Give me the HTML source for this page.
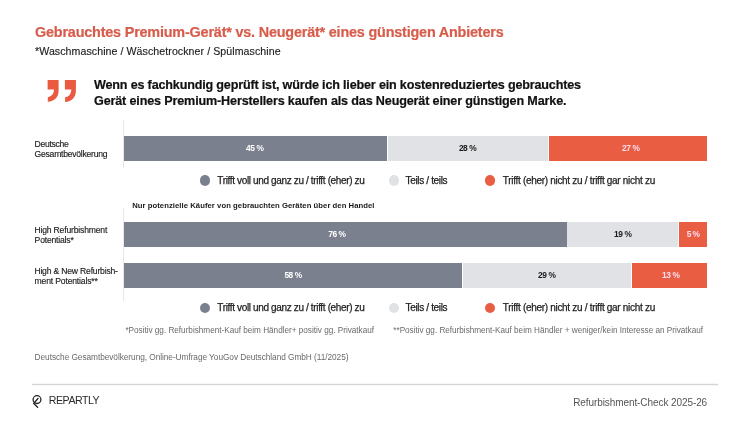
<!DOCTYPE html>
<html><head><meta charset="utf-8"><style>
html,body{margin:0;padding:0;background:#fff;}
body{width:750px;height:422px;position:relative;overflow:hidden;font-family:"Liberation Sans",sans-serif;}
body>div{position:absolute;white-space:nowrap;}
body{will-change:transform;}
</style></head><body>
<div style="left:35.00px;top:25.00px;font-size:14.4px;line-height:14.4px;color:#d85c4b;font-weight:700;letter-spacing:-0.188px;-webkit-text-stroke:0.2px #d85c4b">Gebrauchtes Premium-Gerät* vs. Neugerät* eines günstigen Anbieters</div>
<div style="left:35.00px;top:46.00px;font-size:10.6px;line-height:10.6px;color:#222;font-weight:400;letter-spacing:0.075px;-webkit-text-stroke:0.15px #222">*Waschmaschine / Wäschetrockner / Spülmaschine</div>
<div style="left:94.00px;top:79.00px;font-size:12.6px;line-height:12.6px;color:#111;font-weight:700;letter-spacing:-0.179px;-webkit-text-stroke:0.2px #111">Wenn es fachkundig geprüft ist, würde ich lieber ein kostenreduziertes gebrauchtes</div>
<div style="left:94.00px;top:95.00px;font-size:12.6px;line-height:12.6px;color:#111;font-weight:700;letter-spacing:-0.154px;-webkit-text-stroke:0.2px #111">Gerät eines Premium-Herstellers kaufen als das Neugerät einer günstigen Marke.</div>
<div style="left:34.60px;top:140.00px;font-size:8.6px;line-height:8.6px;color:#222;font-weight:400;letter-spacing:-0.290px;-webkit-text-stroke:0.15px #222">Deutsche</div>
<div style="left:34.60px;top:150.00px;font-size:8.6px;line-height:8.6px;color:#222;font-weight:400;letter-spacing:-0.248px;-webkit-text-stroke:0.15px #222">Gesamtbevölkerung</div>
<div style="left:34.40px;top:226.00px;font-size:8.6px;line-height:8.6px;color:#222;font-weight:400;letter-spacing:-0.177px;-webkit-text-stroke:0.15px #222">High Refurbishment</div>
<div style="left:34.60px;top:236.00px;font-size:8.6px;line-height:8.6px;color:#222;font-weight:400;letter-spacing:-0.192px;-webkit-text-stroke:0.15px #222">Potentials*</div>
<div style="left:34.40px;top:267.00px;font-size:8.6px;line-height:8.6px;color:#222;font-weight:400;letter-spacing:-0.193px;-webkit-text-stroke:0.15px #222">High &amp; New Refurbish-</div>
<div style="left:34.60px;top:277.00px;font-size:8.6px;line-height:8.6px;color:#222;font-weight:400;letter-spacing:-0.167px;-webkit-text-stroke:0.15px #222">ment Potentials**</div>
<div style="left:123px;top:120px;width:1px;height:48px;background:#e9e9ec"></div>
<div style="left:123px;top:208px;width:1px;height:93px;background:#e9e9ec"></div>
<div style="left:124px;top:136px;width:262.5px;height:25px;background:#7b808f"></div>
<div style="left:387.5px;top:136px;width:160.70000000000005px;height:25px;background:#e1e2e6"></div>
<div style="left:549px;top:136px;width:158px;height:25px;background:#e95e42"></div>
<div style="left:246.10px;top:144.00px;font-size:8.4px;line-height:8.4px;color:#fff;font-weight:700;letter-spacing:-0.449px;">45 %</div>
<div style="left:458.90px;top:144.00px;font-size:8.4px;line-height:8.4px;color:#1a1a1a;font-weight:700;letter-spacing:-0.449px;">28 %</div>
<div style="left:622.10px;top:144.00px;font-size:8.4px;line-height:8.4px;color:#fde;font-weight:700;letter-spacing:-0.449px;">27 %</div>
<div style="left:124px;top:222px;width:442.70000000000005px;height:25px;background:#7b808f"></div>
<div style="left:567.3px;top:222px;width:110.70000000000005px;height:25px;background:#e1e2e6"></div>
<div style="left:678.5px;top:222px;width:28.5px;height:25px;background:#e95e42"></div>
<div style="left:328.30px;top:230.00px;font-size:8.4px;line-height:8.4px;color:#fff;font-weight:700;letter-spacing:-0.449px;">76 %</div>
<div style="left:614.10px;top:230.00px;font-size:8.4px;line-height:8.4px;color:#1a1a1a;font-weight:700;letter-spacing:-0.449px;">19 %</div>
<div style="left:686.80px;top:230.00px;font-size:8.4px;line-height:8.4px;color:#fde;font-weight:700;letter-spacing:-0.637px;">5 %</div>
<div style="left:124px;top:263px;width:338.3px;height:25px;background:#7b808f"></div>
<div style="left:463px;top:263px;width:168.20000000000005px;height:25px;background:#e1e2e6"></div>
<div style="left:631.8px;top:263px;width:75.20000000000005px;height:25px;background:#e95e42"></div>
<div style="left:284.40px;top:271.00px;font-size:8.4px;line-height:8.4px;color:#fff;font-weight:700;letter-spacing:-0.449px;">58 %</div>
<div style="left:538.10px;top:271.00px;font-size:8.4px;line-height:8.4px;color:#1a1a1a;font-weight:700;letter-spacing:-0.449px;">29 %</div>
<div style="left:662.10px;top:271.00px;font-size:8.4px;line-height:8.4px;color:#fde;font-weight:700;letter-spacing:-0.449px;">13 %</div>
<div style="left:199.60px;top:175.30px;width:10.4px;height:10.4px;border-radius:50%;background:#7b808f"></div>
<div style="left:388.80px;top:175.30px;width:10.4px;height:10.4px;border-radius:50%;background:#e1e2e6"></div>
<div style="left:485.00px;top:175.30px;width:10.4px;height:10.4px;border-radius:50%;background:#e95e42"></div>
<div style="left:217.30px;top:176.00px;font-size:10.0px;line-height:10.0px;color:#1e1e1e;font-weight:400;letter-spacing:-0.356px;-webkit-text-stroke:0.25px #1e1e1e">Trifft voll und ganz zu / trifft (eher) zu</div>
<div style="left:405.60px;top:176.00px;font-size:10.0px;line-height:10.0px;color:#1e1e1e;font-weight:400;letter-spacing:-0.344px;-webkit-text-stroke:0.25px #1e1e1e">Teils / teils</div>
<div style="left:502.80px;top:176.00px;font-size:10.0px;line-height:10.0px;color:#1e1e1e;font-weight:400;letter-spacing:-0.303px;-webkit-text-stroke:0.25px #1e1e1e">Trifft (eher) nicht zu / trifft gar nicht zu</div>
<div style="left:199.60px;top:302.60px;width:10.4px;height:10.4px;border-radius:50%;background:#7b808f"></div>
<div style="left:388.80px;top:302.60px;width:10.4px;height:10.4px;border-radius:50%;background:#e1e2e6"></div>
<div style="left:485.00px;top:302.60px;width:10.4px;height:10.4px;border-radius:50%;background:#e95e42"></div>
<div style="left:217.30px;top:303.00px;font-size:10.0px;line-height:10.0px;color:#1e1e1e;font-weight:400;letter-spacing:-0.356px;-webkit-text-stroke:0.25px #1e1e1e">Trifft voll und ganz zu / trifft (eher) zu</div>
<div style="left:405.60px;top:303.00px;font-size:10.0px;line-height:10.0px;color:#1e1e1e;font-weight:400;letter-spacing:-0.344px;-webkit-text-stroke:0.25px #1e1e1e">Teils / teils</div>
<div style="left:502.80px;top:303.00px;font-size:10.0px;line-height:10.0px;color:#1e1e1e;font-weight:400;letter-spacing:-0.303px;-webkit-text-stroke:0.25px #1e1e1e">Trifft (eher) nicht zu / trifft gar nicht zu</div>
<div style="left:132.20px;top:202.00px;font-size:7.7px;line-height:7.7px;color:#1a1a1a;font-weight:700;letter-spacing:0.051px;">Nur potenzielle Käufer von gebrauchten Geräten über den Handel</div>
<div style="left:125.40px;top:327.00px;font-size:8.2px;line-height:8.2px;color:#6a6a6a;font-weight:400;letter-spacing:-0.015px;">*Positiv gg. Refurbishment-Kauf beim Händler+ positiv gg. Privatkauf</div>
<div style="left:393.30px;top:327.00px;font-size:8.2px;line-height:8.2px;color:#6a6a6a;font-weight:400;letter-spacing:-0.022px;">**Positiv gg. Refurbishment-Kauf beim Händler + weniger/kein Interesse an Privatkauf</div>
<div style="left:34.60px;top:353.00px;font-size:8.3px;line-height:8.3px;color:#6a6a6a;font-weight:400;letter-spacing:-0.056px;">Deutsche Gesamtbevölkerung, Online-Umfrage YouGov Deutschland GmbH (11/2025)</div>
<div style="left:32px;top:384px;width:685.5px;height:1px;background:#d5d5d5;box-shadow:0 0 1.2px 0.3px #e2e2e2"></div>
<div style="left:48.80px;top:395.00px;font-size:10.6px;line-height:10.6px;color:#2a2a2a;font-weight:400;letter-spacing:-0.471px;">REPARTLY</div>
<div style="left:573.20px;top:398.00px;font-size:10.0px;line-height:10.0px;color:#555;font-weight:400;letter-spacing:-0.084px;">Refurbishment-Check 2025-26</div>
<svg style="position:absolute;left:0;top:0" width="750" height="422" viewBox="0 0 750 422">
<g fill="none" stroke="#222" stroke-width="1.3" stroke-linecap="round">
<circle cx="37" cy="399.6" r="3.9"/>
<path d="M38 398.5 L33.7 403.4 L37.6 407.3"/>
</g>
<g fill="#ea5a40">
<path d="M47.6 80 H58.6 V90.5 C58.6 97.5 54.5 101.3 47.8 101.7 V97.3 C51.6 96.6 53.8 94 54 89.6 H47.6 Z"/>
<path d="M64.9 79.9 H75.9 V90.4 C75.9 97.4 71.8 101.5 65.1 101.9 V97.3 C68.9 96.6 71.1 94 71.3 89.4 H64.9 Z"/>
</g>
</svg>
</body></html>
